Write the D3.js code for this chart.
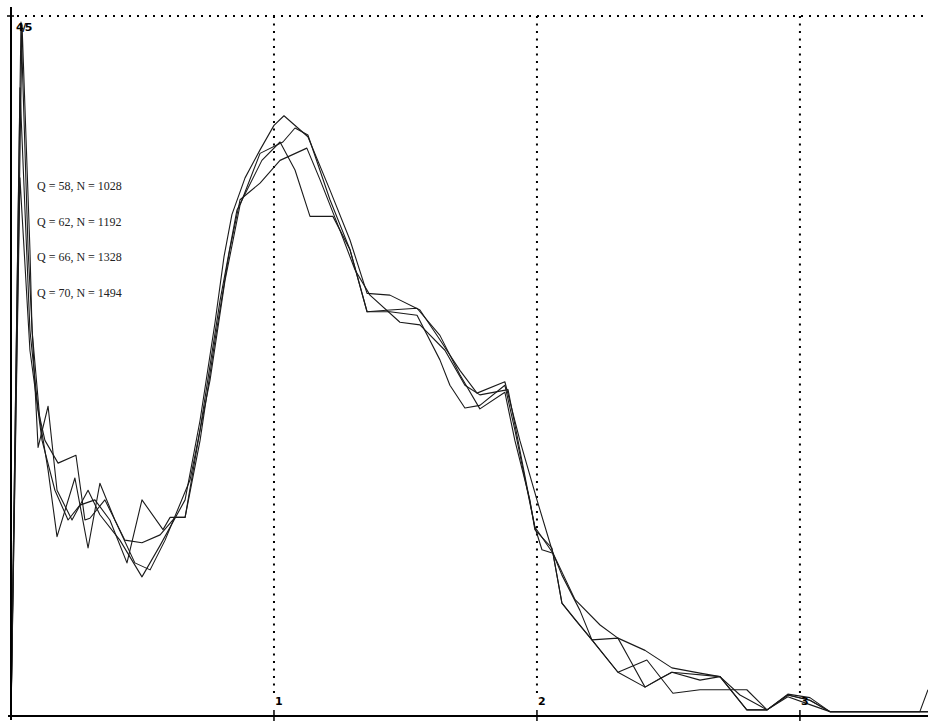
<!DOCTYPE html>
<html>
<head>
<meta charset="utf-8">
<script src="https://cdn.jsdelivr.net/npm/d3@7"></script>
<style>
  html, body { margin: 0; padding: 0; background: #fff; }
  svg { display: block; }
</style>
</head>
<body>
<div id="chart"></div>
<script>
// Series: [x, density] pairs
const q58 = [[0,0],[0.038,0.793],[0.065,0.533],[0.103,0.307],[0.141,0.354],[0.175,0.258],[0.232,0.224],[0.293,0.258],[0.338,0.230],[0.414,0.201],[0.498,0.159],[0.567,0.195],[0.662,0.247],[0.719,0.338],[0.776,0.450],[0.810,0.525],[0.840,0.573],[0.890,0.615],[0.947,0.647],[1.000,0.675],[1.038,0.686],[1.129,0.662],[1.213,0.601],[1.289,0.544],[1.354,0.483],[1.441,0.481],[1.555,0.464],[1.631,0.430],[1.707,0.395],[1.772,0.369],[1.878,0.382],[1.935,0.315],[2.000,0.247],[2.061,0.186],[2.095,0.161],[2.163,0.121],[2.209,0.087],[2.308,0.089],[2.354,0.064],[2.411,0.033],[2.513,0.050],[2.620,0.041],[2.696,0.045],[2.798,0.007],[2.875,0.007],[2.954,0.024],[3.038,0.018],[3.114,0.005],[3.456,0.005],[3.487,0.030]];
const q62 = [[0,0],[0.042,0.790],[0.072,0.533],[0.080,0.441],[0.110,0.338],[0.141,0.281],[0.175,0.205],[0.243,0.272],[0.293,0.192],[0.338,0.266],[0.395,0.224],[0.471,0.175],[0.529,0.167],[0.586,0.201],[0.681,0.270],[0.757,0.384],[0.814,0.498],[0.871,0.584],[0.947,0.643],[1.034,0.656],[1.080,0.672],[1.129,0.664],[1.213,0.590],[1.289,0.533],[1.354,0.462],[1.441,0.464],[1.544,0.466],[1.631,0.435],[1.707,0.390],[1.783,0.351],[1.878,0.370],[1.916,0.315],[1.973,0.247],[1.992,0.213],[2.057,0.192],[2.095,0.129],[2.209,0.087],[2.308,0.050],[2.418,0.064],[2.517,0.026],[2.620,0.030],[2.798,0.030],[2.875,0.007],[2.954,0.022],[3.038,0.013],[3.114,0.005],[3.487,0.005]];
const q66 = [[0,0],[0.034,0.718],[0.072,0.441],[0.103,0.350],[0.129,0.315],[0.179,0.289],[0.247,0.298],[0.281,0.224],[0.300,0.226],[0.357,0.247],[0.433,0.201],[0.498,0.198],[0.567,0.207],[0.624,0.227],[0.662,0.227],[0.719,0.315],[0.776,0.430],[0.830,0.530],[0.871,0.590],[0.947,0.609],[1.023,0.635],[1.125,0.649],[1.175,0.613],[1.251,0.555],[1.308,0.510],[1.365,0.481],[1.479,0.450],[1.555,0.447],[1.650,0.418],[1.726,0.378],[1.783,0.367],[1.890,0.373],[1.935,0.304],[1.992,0.216],[2.061,0.186],[2.145,0.133],[2.240,0.104],[2.308,0.089],[2.411,0.075],[2.513,0.055],[2.620,0.049],[2.696,0.045],[2.772,0.024],[2.875,0.007],[2.954,0.025],[3.038,0.021],[3.114,0.005],[3.487,0.005]];
const q70 = [[0,0],[0.034,0.615],[0.072,0.418],[0.118,0.315],[0.167,0.258],[0.217,0.224],[0.262,0.241],[0.319,0.247],[0.376,0.224],[0.441,0.175],[0.498,0.247],[0.578,0.213],[0.605,0.227],[0.662,0.227],[0.719,0.327],[0.795,0.475],[0.859,0.578],[0.954,0.635],[1.023,0.656],[1.080,0.624],[1.137,0.571],[1.224,0.571],[1.289,0.533],[1.354,0.462],[1.441,0.462],[1.544,0.458],[1.631,0.407],[1.669,0.378],[1.726,0.352],[1.783,0.355],[1.878,0.378],[1.916,0.327],[1.992,0.216],[2.019,0.190],[2.061,0.186],[2.095,0.129],[2.145,0.110],[2.209,0.087],[2.308,0.050],[2.411,0.033],[2.468,0.043],[2.513,0.050],[2.696,0.045],[2.798,0.007],[2.875,0.007],[2.954,0.024],[3.038,0.018],[3.114,0.005],[3.487,0.005]];

const seriesLabels = ["Q = 58, N = 1028", "Q = 62, N = 1192", "Q = 66, N = 1328", "Q = 70, N = 1494"];
const xTicks = [1, 2, 3];
const xTickLabels = ["1", "2", "3"];
const yTicks = [0.8];
const yTickLabels = ["4/5"];

const width = 928, height = 721;

const x = d3.scaleLinear().domain([0, 3.487]).range([11, 928]);
const y = d3.scaleLinear().domain([0, 0.8]).range([716, 16]);

const svg = d3.select("#chart")
    .append("svg")
    .attr("width", width)
    .attr("height", height);

// dotted grid: top line at 4/5 and verticals at the x ticks
svg.selectAll("line.hgrid")
    .data(yTicks)
    .enter().append("line")
    .attr("class", "hgrid")
    .attr("x1", 17).attr("x2", width)
    .attr("y1", d => y(d)).attr("y2", d => y(d))
    .attr("stroke", "#000")
    .attr("stroke-width", 2)
    .attr("stroke-dasharray", "2,6");

svg.selectAll("line.vgrid")
    .data(xTicks)
    .enter().append("line")
    .attr("class", "vgrid")
    .attr("x1", d => x(d)).attr("x2", d => x(d))
    .attr("y1", y(0.8)).attr("y2", 694)
    .attr("stroke", "#000")
    .attr("stroke-width", 2)
    .attr("stroke-dasharray", "2,5.5");

// the curves (straight segments, the corners are sharp in the original)
const line = d3.line()
    .x(d => x(d[0]))
    .y(d => y(d[1]));

svg.selectAll("path.curve")
    .data([q58, q62, q66, q70])
    .enter().append("path")
    .attr("class", "curve")
    .attr("d", line)
    .attr("fill", "none")
    .attr("stroke", "#1a1a1a")
    .attr("stroke-width", 1.1)
    .attr("stroke-linejoin", "round");

// axes
svg.append("line")
    .attr("x1", 8).attr("x2", width)
    .attr("y1", y(0)).attr("y2", y(0))
    .attr("stroke", "#000").attr("stroke-width", 2);

svg.append("line")
    .attr("x1", x(0)).attr("x2", x(0))
    .attr("y1", 7).attr("y2", 720)
    .attr("stroke", "#000").attr("stroke-width", 2);

svg.selectAll("line.xtick")
    .data(xTicks)
    .enter().append("line")
    .attr("x1", d => x(d)).attr("x2", d => x(d))
    .attr("y1", y(0) - 6).attr("y2", y(0) + 5)
    .attr("stroke", "#000").attr("stroke-width", 1.5);

svg.selectAll("line.ytick")
    .data(yTicks)
    .enter().append("line")
    .attr("x1", x(0) - 4).attr("x2", x(0) + 3)
    .attr("y1", d => y(d)).attr("y2", d => y(d))
    .attr("stroke", "#000").attr("stroke-width", 1.5);

svg.selectAll("text.xlab")
    .data(xTicks)
    .enter().append("text")
    .attr("x", d => x(d) + 1)
    .attr("y", 705)
    .text((d, i) => xTickLabels[i])
    .attr("font-family", "DejaVu Sans")
    .attr("font-weight", "bold")
    .attr("font-size", 11);

svg.selectAll("text.ylab")
    .data(yTicks)
    .enter().append("text")
    .attr("x", x(0) + 5)
    .attr("y", d => y(d) + 15)
    .text((d, i) => yTickLabels[i])
    .attr("font-family", "DejaVu Sans")
    .attr("font-weight", "bold")
    .attr("font-size", 11)
    .attr("letter-spacing", -1.5);

// series labels
svg.selectAll("text.series")
    .data(seriesLabels)
    .enter().append("text")
    .attr("x", 37)
    .attr("y", (d, i) => 190 + i * 35.5)
    .text(d => d)
    .attr("font-family", "Liberation Serif")
    .attr("font-size", 12)
    .attr("fill", "#222");
</script>
</body>
</html>
